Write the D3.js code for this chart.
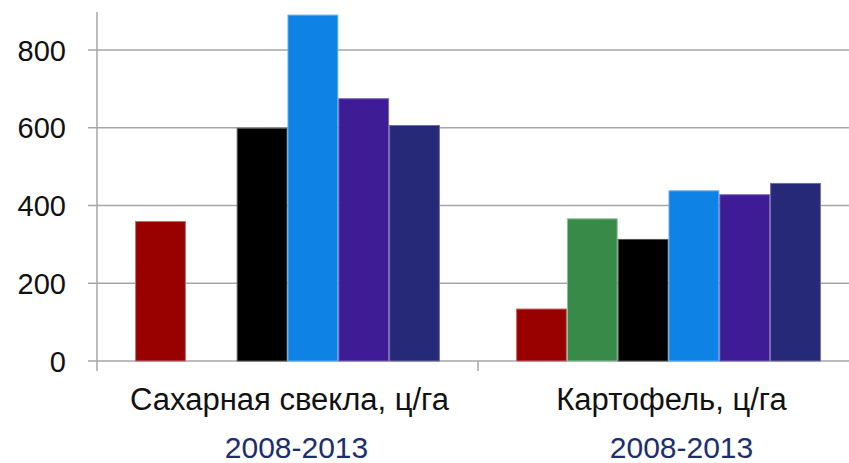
<!DOCTYPE html>
<html>
<head>
    <meta charset="utf-8" />
    <title>Урожайность 2008-2013</title>
    <style>
        body { margin: 0; background: #fff; }
        .grid line { stroke: #a6a6a6; stroke-width: 1.5px; }
        .axis text { font-family: "Liberation Sans", Arial, sans-serif; font-size: 29px; fill: #111; }
    </style>
    <script src="https://cdn.jsdelivr.net/npm/d3@7"></script>
</head>
<body>
<script>
    // categories, series and values
    const categories = ["Сахарная свекла, ц/га", "Картофель, ц/га"];
    const periods = ["2008-2013", "2008-2013"];
    const series = ["s1", "s2", "s3", "s4", "s5", "s6"];
    const beetValues = [360, null, 600, 891, 676, 607];
    const potatoValues = [135, 367, 314, 439, 429, 458];
    const yTicks = [0, 200, 400, 600, 800];
    const colors = ["#990000", "#378a47", "#000000", "#0e83e5", "#3e1c96", "#262878"];
    const strokes = ["#c06a6a", "#8fc09a", "#555555", "#5fb0f0", "#7a66b8", "#6a6ca8"];

    const width = 849, height = 463;
    const margin = { left: 97, right: 859, top: 12, bottom: 361 };

    const svg = d3.select("body").append("svg")
        .attr("width", width)
        .attr("height", height);

    const x0 = d3.scaleBand().domain(categories).range([margin.left, margin.right]);
    const x1 = d3.scaleBand().domain(series).range([0, x0.bandwidth()])
        .paddingInner(0).paddingOuter(0.75);
    const y = d3.scaleLinear().domain([0, 800]).range([margin.bottom, 50]);

    // gridlines
    svg.append("g").attr("class", "grid")
        .selectAll("line").data(yTicks).enter().append("line")
        .attr("x1", margin.left - 9).attr("x2", margin.right)
        .attr("y1", d => y(d)).attr("y2", d => y(d));

    // y axis line
    svg.append("line")
        .attr("x1", margin.left).attr("x2", margin.left)
        .attr("y1", margin.top).attr("y2", margin.bottom + 10)
        .attr("stroke", "#a6a6a6").attr("stroke-width", 1.5);

    // category ticks on x axis
    svg.append("g").selectAll("line")
        .data(categories.slice(1)).enter().append("line")
        .attr("x1", d => x0(d)).attr("x2", d => x0(d))
        .attr("y1", margin.bottom).attr("y2", margin.bottom + 10)
        .attr("stroke", "#a6a6a6").attr("stroke-width", 1.5);

    // y tick labels
    svg.append("g").attr("class", "axis")
        .selectAll("text").data(yTicks).enter().append("text")
        .attr("x", 66)
        .attr("y", d => y(d) + 10.5)
        .attr("text-anchor", "end")
        .text(d => d);

    // bars
    const data = [beetValues, potatoValues];
    const groups = svg.selectAll(".group")
        .data(categories).enter().append("g")
        .attr("class", "group")
        .attr("transform", d => "translate(" + x0(d) + ",0)");

    groups.selectAll("rect")
        .data((d, i) => series.map((s, j) => ({ s: s, j: j, v: data[i][j] })).filter(e => e.v !== null))
        .enter().append("rect")
        .attr("x", d => x1(d.s) + 0.5)
        .attr("width", x1.bandwidth() - 1)
        .attr("y", d => y(d.v) + 0.5)
        .attr("height", d => y(0) - y(d.v) - 0.5)
        .attr("fill", d => colors[d.j])
        .attr("stroke", d => strokes[d.j])
        .attr("stroke-width", 1);

    // category labels
    svg.append("g").selectAll("text")
        .data(categories).enter().append("text")
        .attr("x", (d, i) => x0(d) + x0.bandwidth() / 2 + (i === 0 ? 2 : 3))
        .attr("y", 410)
        .attr("text-anchor", "middle")
        .style("font-family", "'Liberation Sans', Arial, sans-serif")
        .style("font-size", "31px")
        .style("fill", "#111")
        .text(d => d);

    // period labels
    svg.append("g").selectAll("text")
        .data(periods).enter().append("text")
        .attr("x", (d, i) => x0(categories[i]) + x0.bandwidth() / 2 + (i === 0 ? 9 : 13))
        .attr("y", 458)
        .attr("text-anchor", "middle")
        .style("font-family", "'Liberation Sans', Arial, sans-serif")
        .style("font-size", "30px")
        .style("fill", "#1b2f6e")
        .text(d => d);
</script>
</body>
</html>
